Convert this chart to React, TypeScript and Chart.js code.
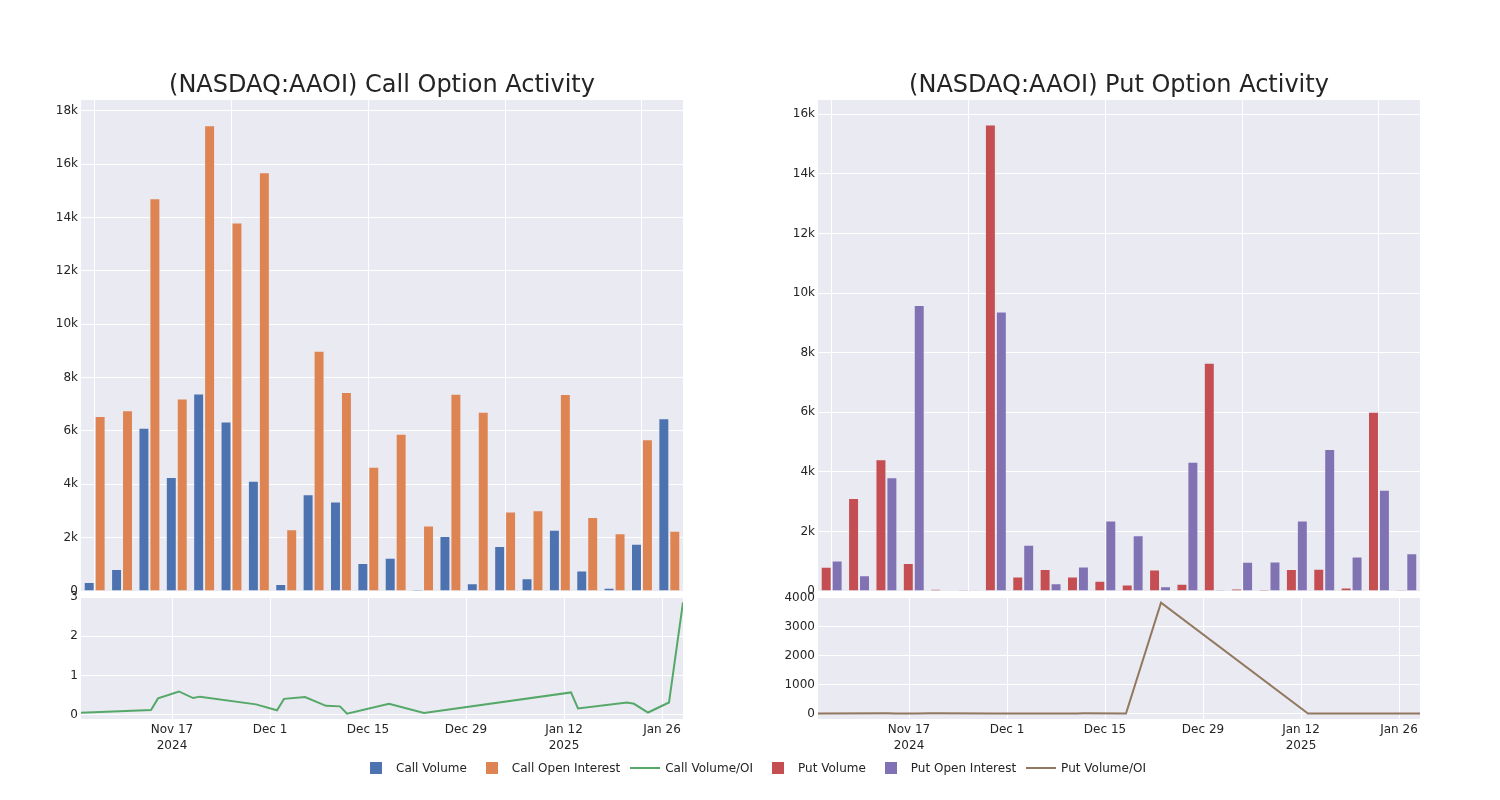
import React, { useEffect, useRef } from "react";
import { Chart, registerables } from "chart.js";

Chart.register(...registerables);

const dates = [
  "2024-11-04", "2024-11-14", "2024-11-15", "2024-11-18", "2024-11-20", "2024-11-21",
  "2024-11-29", "2024-12-02", "2024-12-03", "2024-12-06", "2024-12-09", "2024-12-11",
  "2024-12-12", "2024-12-18", "2024-12-23", "2025-01-13", "2025-01-14", "2025-01-21",
  "2025-01-22", "2025-01-24", "2025-01-27", "2025-01-29",
];

const callVolume = [340, 820, 6120, 4270, 7400, 6350, 4130, 260, 3630, 3350, 1050, 1250, 60, 2060, 290, 1690, 480, 2300, 770, 120, 1770, 6470];
const callOpenInterest = [6560, 6770, 14720, 7210, 17450, 13810, 15690, 2310, 9000, 7460, 4660, 5890, 2450, 7390, 6720, 2980, 3030, 7380, 2770, 2160, 5690, 2260];
const callRatio = [0.052, 0.121, 0.416, 0.592, 0.424, 0.46, 0.263, 0.113, 0.403, 0.449, 0.225, 0.212, 0.024, 0.279, 0.043, 0.567, 0.158, 0.312, 0.278, 0.056, 0.311, 2.863];

const putVolume = [810, 3120, 4420, 940, 60, 40, 15660, 490, 740, 490, 340, 220, 720, 240, 7660, 80, 50, 740, 750, 120, 6020, 40];
const putOpenInterest = [1020, 530, 3820, 9600, 10, 5, 9380, 1550, 260, 820, 2370, 1870, 160, 4340, 2, 980, 990, 2370, 4770, 1160, 3400, 1270];
const putRatio = [0.79, 5.9, 1.16, 0.1, 6, 8, 1.67, 0.32, 2.85, 0.6, 0.14, 0.12, 4.5, 0.055, 3830, 0.08, 0.05, 0.31, 0.16, 0.1, 1.77, 0.03];

const xTickDates = ["2024-11-17", "2024-12-01", "2024-12-15", "2024-12-29", "2025-01-12", "2025-01-26"];
const xTickLabels: (string | string[])[] = [["Nov 17", "2024"], "Dec 1", "Dec 15", "Dec 29", ["Jan 12", "2025"], "Jan 26"];
const xRange = ["2024-11-04", "2025-01-29"];

const callBarTicks = [0, 2000, 4000, 6000, 8000, 10000, 12000, 14000, 16000, 18000];
const putBarTicks = [0, 2000, 4000, 6000, 8000, 10000, 12000, 14000, 16000];
const callRatioTicks = [0, 1, 2, 3];
const putRatioTicks = [0, 1000, 2000, 3000, 4000];

const titles = ["(NASDAQ:AAOI) Call Option Activity", "(NASDAQ:AAOI) Put Option Activity"];

const legendLabels = ["Call Volume", "Call Open Interest", "Call Volume/OI", "Put Volume", "Put Open Interest", "Put Volume/OI"];
const legendKinds = ["box", "box", "line", "box", "box", "line"];

const C_BLUE = "#4C72B0";
const C_ORANGE = "#DD8452";
const C_GREEN = "#55A868";
const C_RED = "#C44E52";
const C_PURPLE = "#8172B3";
const C_BROWN = "#937860";
const legendColors = [C_BLUE, C_ORANGE, C_GREEN, C_RED, C_PURPLE, C_BROWN];

const FONT = "'DejaVu Sans', sans-serif";
const TEXT = "#242424";
const PLOT_BG = "#EAEAF2";

const dayNum = (s: string) => {
  const [y, m, d] = s.split("-").map(Number);
  return Date.UTC(y, m - 1, d) / 86400000;
};

const kFmt = (v: any) => (Number(v) === 0 ? "0" : `${Number(v) / 1000}k`);

const bgPlugin = {
  id: "plotBg",
  beforeDraw(chart: any) {
    const { ctx, chartArea } = chart;
    if (!chartArea) return;
    ctx.save();
    ctx.fillStyle = PLOT_BG;
    ctx.fillRect(chartArea.left, chartArea.top, chartArea.right - chartArea.left, chartArea.bottom - chartArea.top);
    ctx.restore();
  },
};

function yAxis(ticksArr: number[], min: number, max: number, fmt?: (v: any) => string) {
  return {
    type: "linear",
    min,
    max,
    afterFit: (s: any) => {
      s.width = 60;
    },
    afterBuildTicks: (s: any) => {
      s.ticks = ticksArr.map((v) => ({ value: v }));
    },
    grid: { color: "#ffffff", lineWidth: 1, drawTicks: false },
    border: { display: false },
    ticks: {
      padding: 3,
      color: TEXT,
      font: { family: FONT, size: 12 },
      callback: fmt ? fmt : (v: any) => String(v),
    },
  };
}

function barConfig(labels: string[], a: number[], b: number[], ca: string, cb: string, la: string, lb: string, yTicks: number[], yMax: number, left: number, right: number): any {
  return {
    type: "bar",
    data: {
      labels,
      datasets: [
        { label: la, data: a, backgroundColor: ca, borderColor: "rgba(234,234,242,0.55)", borderWidth: 1, categoryPercentage: 0.8, barPercentage: 1.0 },
        { label: lb, data: b, backgroundColor: cb, borderColor: "rgba(234,234,242,0.55)", borderWidth: 1, categoryPercentage: 0.8, barPercentage: 1.0 },
      ],
    },
    options: {
      responsive: false,
      animation: false,
      layout: { padding: { left: left - 60, right: 1500 - right, top: 100, bottom: 800 - 591 } },
      plugins: { legend: { display: false }, tooltip: { enabled: false }, title: { display: false } },
      scales: {
        x: {
          type: "category",
          offset: true,
          afterFit: (s: any) => {
            s.height = 0;
          },
          grid: {
            offset: false,
            drawTicks: false,
            lineWidth: 1,
            color: (ctx: any) => (ctx.index % 5 === 0 ? "#ffffff" : "rgba(0,0,0,0)"),
          },
          border: { display: false },
          ticks: { display: false, autoSkip: false },
        },
        y: yAxis(yTicks, 0, yMax, kFmt),
      },
    },
    plugins: [bgPlugin],
  };
}

function lineConfig(values: number[], color: string, label: string, yTicks: number[], yMin: number, yMax: number, left: number, right: number): any {
  const tickVals = xTickDates.map(dayNum);
  return {
    type: "line",
    data: {
      datasets: [
        {
          label,
          data: dates.map((d, i) => ({ x: dayNum(d), y: values[i] })),
          borderColor: color,
          backgroundColor: color,
          borderWidth: 2,
          pointRadius: 0,
          tension: 0,
          fill: false,
        },
      ],
    },
    options: {
      responsive: false,
      animation: false,
      layout: { padding: { left: left - 60, right: 1500 - right, top: 597, bottom: 800 - 719 - 40 } },
      plugins: { legend: { display: false }, tooltip: { enabled: false } },
      scales: {
        x: {
          type: "linear",
          min: dayNum(xRange[0]),
          max: dayNum(xRange[1]),
          afterFit: (s: any) => {
            s.height = 40;
          },
          afterBuildTicks: (s: any) => {
            s.ticks = tickVals.map((v) => ({ value: v }));
          },
          grid: { color: "#ffffff", lineWidth: 1, drawTicks: false },
          border: { display: false },
          ticks: {
            autoSkip: false,
            maxRotation: 0,
            padding: 3,
            color: TEXT,
            font: { family: FONT, size: 12, lineHeight: 1.35 },
            callback: (_v: any, i: number) => xTickLabels[i],
          },
        },
        y: yAxis(yTicks, yMin, yMax),
      },
    },
    plugins: [bgPlugin],
  };
}

export default function App() {
  const r1 = useRef<HTMLCanvasElement>(null);
  const r2 = useRef<HTMLCanvasElement>(null);
  const r3 = useRef<HTMLCanvasElement>(null);
  const r4 = useRef<HTMLCanvasElement>(null);

  useEffect(() => {
    const charts: Chart[] = [];
    charts.push(new Chart(r1.current as any, barConfig(dates, callVolume, callOpenInterest, C_BLUE, C_ORANGE, "Call Volume", "Call Open Interest", callBarTicks, 18400, 81, 683)));
    charts.push(new Chart(r2.current as any, lineConfig(callRatio, C_GREEN, "Call Volume/OI", callRatioTicks, -0.11, 3.0, 81, 683)));
    charts.push(new Chart(r3.current as any, barConfig(dates, putVolume, putOpenInterest, C_RED, C_PURPLE, "Put Volume", "Put Open Interest", putBarTicks, 16480, 818, 1420)));
    charts.push(new Chart(r4.current as any, lineConfig(putRatio, C_BROWN, "Put Volume/OI", putRatioTicks, -190, 4025, 818, 1420)));
    return () => charts.forEach((c) => c.destroy());
  }, []);

  const canvasStyle: React.CSSProperties = { position: "absolute", left: 0, top: 0, width: 1500, height: 800 };

  return (
    <div style={{ position: "absolute", left: 0, top: 0, width: 1500, height: 800, background: "#ffffff", fontFamily: FONT, color: TEXT, overflow: "hidden" }}>
      <canvas ref={r1} width={1500} height={800} style={canvasStyle} />
      <canvas ref={r2} width={1500} height={800} style={canvasStyle} />
      <canvas ref={r3} width={1500} height={800} style={canvasStyle} />
      <canvas ref={r4} width={1500} height={800} style={canvasStyle} />
      <div style={{ position: "absolute", left: 81, width: 602, top: 69, lineHeight: "30px", fontSize: 24, textAlign: "center", whiteSpace: "nowrap" }}>{titles[0]}</div>
      <div style={{ position: "absolute", left: 818, width: 602, top: 69, lineHeight: "30px", fontSize: 24, textAlign: "center", whiteSpace: "nowrap" }}>{titles[1]}</div>
      <div style={{ position: "absolute", left: 361, top: 759, height: 18, display: "flex", alignItems: "center", fontSize: 12, whiteSpace: "nowrap" }}>
        {legendLabels.map((lab, i) => (
          <div key={lab} style={{ display: "flex", alignItems: "center", marginRight: 10 }}>
            <div style={{ width: 30, height: 14, display: "flex", alignItems: "center", justifyContent: "center" }}>
              {legendKinds[i] === "box" ? (
                <div style={{ width: 12, height: 12, background: legendColors[i] }} />
              ) : (
                <div style={{ width: 30, height: 2, background: legendColors[i] }} />
              )}
            </div>
            <span style={{ marginLeft: 5 }}>{lab}</span>
          </div>
        ))}
      </div>
    </div>
  );
}
